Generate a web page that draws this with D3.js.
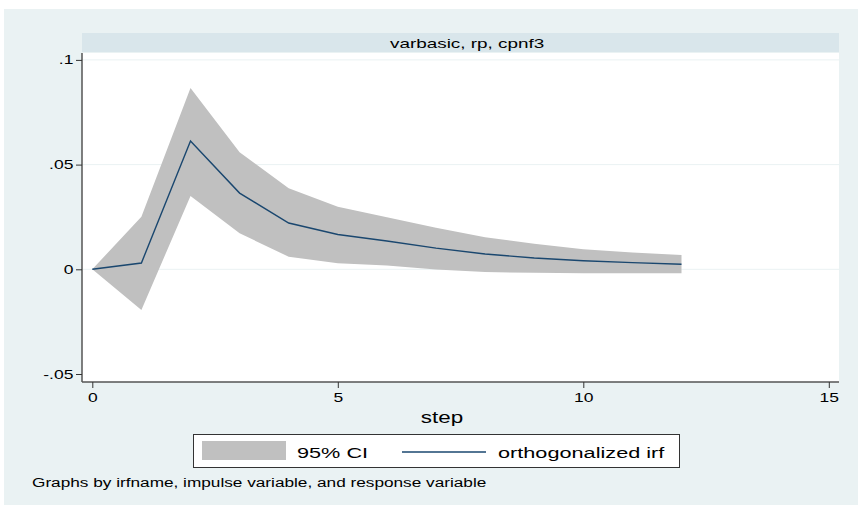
<!DOCTYPE html>
<html>
<head>
<meta charset="utf-8">
<script src="https://cdn.jsdelivr.net/npm/d3@7"></script>
<style>
  body { margin: 0; background: #fff; }
  text { font-family: "Liberation Sans", Arial, sans-serif; fill: #000; }
</style>
</head>
<body>
<svg id="chart" width="858" height="505"></svg>
<script>
// irf values
const steps = [0, 1, 2, 3, 4, 5, 6, 7, 8, 9, 10, 11, 12];
const irf   = [0, 0.003, 0.0613, 0.0364, 0.0221, 0.0166, 0.0135, 0.0101, 0.0073, 0.0054, 0.0041, 0.0032, 0.0024];
const ciUp  = [0, 0.0251, 0.0866, 0.0559, 0.0387, 0.0299, 0.0248, 0.0198, 0.0153, 0.0122, 0.0096, 0.0080, 0.0068];
const ciLo  = [0, -0.0194, 0.035, 0.0172, 0.006, 0.0029, 0.0018, -0.0001, -0.0013, -0.0017, -0.0019, -0.0019, -0.0019];
const xTicks = [0, 5, 10, 15];
const yTicks = [-0.05, 0, 0.05, 0.1];
const yTickLabels = ["-.05", "0", ".05", ".1"];

const svg = d3.select("#chart");

// the picture is stretched sideways, so text is too
const SX = 1.4;
function stext(x, y, size, str, anchor) {
    return svg.append("text")
        .attr("transform", `translate(${x},${y}) scale(${SX},1)`)
        .attr("font-size", size)
        .attr("text-anchor", anchor || "start")
        .text(str);
}

// graph region background
svg.append("rect").attr("x", 4).attr("y", 9).attr("width", 854).attr("height", 496).attr("fill", "#eaf2f3");

const pL = 82, pR = 839, pT = 53, pB = 382;

// title strip
svg.append("rect").attr("x", pL).attr("y", 33).attr("width", pR - pL).attr("height", 19).attr("fill", "#d9e6eb");
stext(390, 48, 13.5, "varbasic, rp, cpnf3");

// plot area
svg.append("rect").attr("x", pL).attr("y", pT).attr("width", pR - pL).attr("height", pB - pT).attr("fill", "#fff");

const x = d3.scaleLinear().domain([0, 15]).range([92.3, 828.8]);
const y = d3.scaleLinear().domain([0, 0.1]).range([269.3, 59.9]);

// gridlines
svg.append("g").selectAll("line").data(yTicks.filter(v => v !== -0.05)).join("line")
    .attr("x1", pL).attr("x2", pR)
    .attr("y1", d => y(d)).attr("y2", d => y(d))
    .attr("stroke", "#eaf2f3").attr("stroke-width", 1);

const rows = steps.map((s, i) => ({ s, v: irf[i], lo: ciLo[i], hi: ciUp[i] }));

// CI band
svg.append("path").datum(rows)
    .attr("fill", "#c0c0c0")
    .attr("d", d3.area().x(d => x(d.s)).y0(d => y(d.lo)).y1(d => y(d.hi)));

// irf line
svg.append("path").datum(rows)
    .attr("fill", "none").attr("stroke", "#1a476f").attr("stroke-width", 1.4)
    .attr("d", d3.line().x(d => x(d.s)).y(d => y(d.v)));

// y axis
const yAxis = svg.append("g").attr("transform", `translate(${pL},0)`)
    .call(d3.axisLeft(y).tickValues(yTicks).tickFormat((d, i) => yTickLabels[i]).tickSize(6).tickPadding(3));
yAxis.select(".domain").attr("d", `M0,${pT}V${pB}`).attr("stroke", "#555").attr("stroke-width", 1.5);
yAxis.selectAll(".tick line").attr("stroke", "#333");
yAxis.selectAll(".tick text")
    .attr("font-size", 12.5).attr("font-family", "Liberation Sans, Arial, sans-serif").attr("fill", "#000")
    .attr("x", -8.6 / SX).attr("transform", `scale(${SX},1)`);

// x axis
const xAxis = svg.append("g").attr("transform", `translate(0,${pB})`)
    .call(d3.axisBottom(x).tickValues(xTicks).tickFormat(d3.format("d")).tickSize(6).tickPadding(5));
xAxis.select(".domain").attr("d", `M${pL},0H${pR}`).attr("stroke", "#555").attr("stroke-width", 1.5);
xAxis.selectAll(".tick line").attr("stroke", "#333");
xAxis.selectAll(".tick text")
    .attr("font-size", 12.5).attr("font-family", "Liberation Sans, Arial, sans-serif").attr("fill", "#000")
    .attr("transform", `scale(${SX},1)`);

// x title
stext(442, 423, 16, "step", "middle");

// legend
svg.append("rect").attr("x", 193.5).attr("y", 434.5).attr("width", 486).attr("height", 33)
    .attr("fill", "#fff").attr("stroke", "#333").attr("stroke-width", 1);
svg.append("rect").attr("x", 202).attr("y", 441).attr("width", 84).attr("height", 19).attr("fill", "#c0c0c0");
stext(297, 457.5, 15.5, "95% CI");
svg.append("line").attr("x1", 402).attr("x2", 486).attr("y1", 452).attr("y2", 452)
    .attr("stroke", "#1a476f").attr("stroke-width", 1.4);
stext(498, 457.5, 15.5, "orthogonalized irf");

// note
stext(32, 487, 12.3, "Graphs by irfname, impulse variable, and response variable");
</script>
</body>
</html>
